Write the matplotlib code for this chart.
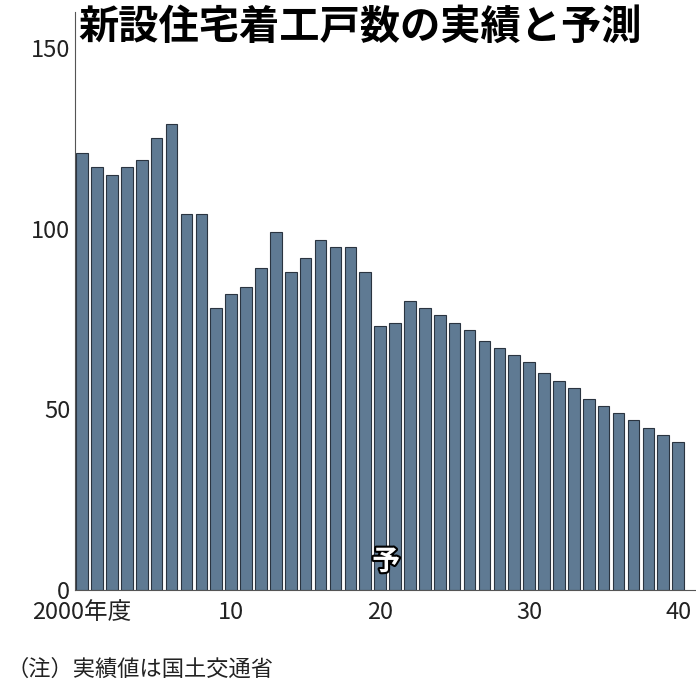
import numpy as np
import matplotlib.pyplot as plt
import matplotlib.patheffects as pe

plt.rcParams['font.family'] = ['Noto Sans CJK JP', 'DejaVu Sans']

years = np.arange(2000, 2041)
starts = [121, 117, 115, 117, 119, 125, 129, 104, 104, 78,
          82, 84, 89, 99, 88, 92, 97, 95, 95, 88,
          73, 74, 80, 78, 76, 74, 72, 69, 67, 65,
          63, 60, 58, 56, 53, 51, 49, 47, 45, 43, 41]
xtick_pos = [2000, 2010, 2020, 2030, 2040]
xtick_labels = ['2000年度', '10', '20', '30', '40']
ytick_pos = [0, 50, 100, 150]

fig = plt.figure(figsize=(6.96, 6.96), dpi=100)
ax = fig.add_axes([0.108, 0.152, 0.892, 0.831])
ax.bar(years, starts, width=0.78, color='#5f7a93', edgecolor='#2a3440', linewidth=0.8)
ax.set_xlim(1999.53, 2041.2)
ax.set_ylim(0, 160)
ax.set_yticks(ytick_pos)
ax.set_xticks(xtick_pos)
ax.set_xticklabels(xtick_labels)
ax.tick_params(axis='both', length=0, labelsize=17, colors='#222222')
ax.tick_params(axis='x', pad=8)
for s in ['top', 'right']:
    ax.spines[s].set_visible(False)
ax.spines['left'].set_color('#555555')
ax.spines['bottom'].set_color('#555555')

ax.text(2020.4, 4, '予', fontsize=20, fontweight='bold', color='white', ha='center', va='bottom',
        path_effects=[pe.withStroke(linewidth=3, foreground='black')])
fig.text(0.112, 0.99, '新設住宅着工戸数の実績と予測', fontsize=29, fontweight='bold', ha='left', va='top')
fig.text(0.01, 0.022, '（注）実績値は国土交通省', fontsize=16, ha='left', va='bottom', color='#222222')

fig.savefig('out.png', dpi=100)
